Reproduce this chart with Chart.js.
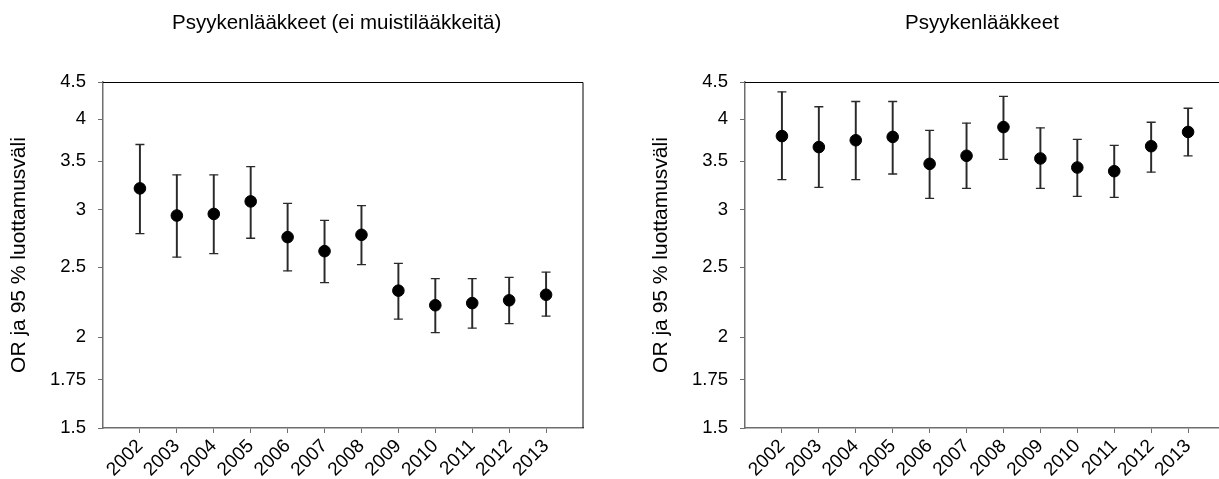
<!doctype html>
<html lang="fi">
<head>
<meta charset="UTF-8" />
<title>Psyykenlääkkeet OR 2002–2013</title>
<script src="https://cdn.jsdelivr.net/npm/chart.js@4/dist/chart.umd.min.js"></script>
<style>
    html, body { margin: 0; padding: 0; background: #fff; overflow: hidden; }
    #wrap { position: relative; width: 1219px; height: 479px; overflow: hidden; }
    .panel { position: absolute; top: 0; }
</style>
</head>
<body>
<div id="wrap">
    <div class="panel" style="left:0px"><canvas id="left" width="620" height="479"></canvas></div>
    <div class="panel" style="left:642px"><canvas id="right" width="620" height="479"></canvas></div>
</div>

<script>
    const years = ["2002", "2003", "2004", "2005", "2006", "2007",
                   "2008", "2009", "2010", "2011", "2012", "2013"];
    const yTicks = [1.5, 1.75, 2, 2.5, 3, 3.5, 4, 4.5];
    const yTitle = "OR ja 95 % luottamusväli";

    // psyykenlääkkeet ilman muistilääkkeitä
    const leftTitle = "Psyykenlääkkeet (ei muistilääkkeitä)";
    const leftOR    = [3.21, 2.945, 2.96, 3.08, 2.75, 2.63, 2.77, 2.32, 2.215, 2.23, 2.25, 2.29];
    const leftLow   = [2.78, 2.58, 2.61, 2.74, 2.47, 2.38, 2.52, 2.12, 2.03, 2.06, 2.09, 2.14];
    const leftHigh  = [3.69, 3.35, 3.35, 3.44, 3.06, 2.90, 3.04, 2.53, 2.41, 2.41, 2.42, 2.46];

    // kaikki psyykenlääkkeet
    const rightTitle = "Psyykenlääkkeet";
    const rightOR    = [3.79, 3.66, 3.74, 3.78, 3.47, 3.56, 3.90, 3.53, 3.43, 3.39, 3.67, 3.84];
    const rightLow   = [3.30, 3.22, 3.30, 3.36, 3.11, 3.21, 3.52, 3.21, 3.13, 3.12, 3.38, 3.56];
    const rightHigh  = [4.36, 4.16, 4.23, 4.23, 3.86, 3.95, 4.30, 3.89, 3.75, 3.68, 3.96, 4.14];

    const FONT = "'Liberation Sans', Arial, sans-serif";
    const AXIS_GRAY = "#6e6e6e";
    const BAR_COLOR = "#2a2a2a";

    // empty slot on both ends so the years sit one step inside the frame
    const labels = ["", ...years, ""];
    const pad = (arr) => [null, ...arr, null];

    // top/right frame lines plus the panel heading
    const framePlugin = {
        id: "frame",
        afterDraw(chart, args, opts) {
            const { ctx, chartArea: a } = chart;
            ctx.save();
            ctx.strokeStyle = "#000";
            ctx.lineWidth = 1;
            ctx.beginPath();
            ctx.moveTo(a.left, a.top + 0.5);
            ctx.lineTo(a.right, a.top + 0.5);
            ctx.lineTo(a.right, a.bottom);
            ctx.stroke();

            ctx.fillStyle = "#000";
            ctx.font = "20.5px " + FONT;
            ctx.textAlign = "left";
            ctx.textBaseline = "alphabetic";
            ctx.fillText(opts.text, opts.x, 29);
            ctx.restore();
        },
    };

    function makeChart(id, title, titleX, or, low, high) {
        const ctx = document.getElementById(id).getContext("2d");
        return new Chart(ctx, {
            type: "bar",
            data: {
                labels: labels,
                datasets: [
                    {
                        type: "line",
                        data: pad(or),
                        showLine: false,
                        pointStyle: "circle",
                        pointRadius: 5.8,
                        pointBorderWidth: 1,
                        pointBackgroundColor: "#000",
                        pointBorderColor: "#000",
                        order: 0,
                    },
                    {
                        type: "line",
                        data: pad(high),
                        showLine: false,
                        pointStyle: "line",
                        pointRadius: 4.5,
                        pointBorderWidth: 1.3,
                        pointBorderColor: BAR_COLOR,
                        order: 1,
                    },
                    {
                        type: "line",
                        data: pad(low),
                        showLine: false,
                        pointStyle: "line",
                        pointRadius: 4.5,
                        pointBorderWidth: 1.3,
                        pointBorderColor: BAR_COLOR,
                        order: 1,
                    },
                    {
                        type: "bar",
                        data: pad(low.map((v, i) => [v, high[i]])),
                        backgroundColor: BAR_COLOR,
                        borderWidth: 0,
                        barThickness: 1.3,
                        order: 2,
                    },
                ],
            },
            options: {
                responsive: false,
                animation: false,
                events: [],
                layout: { padding: { top: 82, right: 37, left: 0, bottom: 0 } },
                plugins: {
                    legend: { display: false },
                    tooltip: { enabled: false },
                    frame: { text: title, x: titleX },
                },
                scales: {
                    x: {
                        type: "category",
                        offset: false,
                        grid: {
                            offset: false,
                            drawOnChartArea: false,
                            tickLength: 5,
                            color: (c) =>
                                c.index === 0 || c.index === labels.length - 1
                                    ? "rgba(0,0,0,0)"
                                    : AXIS_GRAY,
                        },
                        border: { color: AXIS_GRAY, width: 1.5 },
                        ticks: {
                            autoSkip: false,
                            minRotation: 45,
                            maxRotation: 45,
                            padding: 2,
                            color: "#000",
                            font: { family: FONT, size: 19 },
                        },
                        afterFit: (s) => { s.height = 51; },
                    },
                    y: {
                        type: "logarithmic",
                        min: 1.5,
                        max: 4.5,
                        afterBuildTicks: (s) => {
                            s.ticks = yTicks.map((v) => ({ value: v }));
                        },
                        grid: {
                            drawOnChartArea: false,
                            tickLength: 5,
                            color: AXIS_GRAY,
                        },
                        border: { color: AXIS_GRAY, width: 1.5 },
                        ticks: {
                            padding: 12,
                            color: "#000",
                            font: { family: FONT, size: 18.5 },
                            callback: (v) => String(v),
                        },
                        title: {
                            display: true,
                            text: yTitle,
                            color: "#000",
                            font: { family: FONT, size: 21 },
                            padding: { top: 7, bottom: 0 },
                        },
                        afterFit: (s) => { s.width = 103; },
                    },
                },
            },
            plugins: [framePlugin],
        });
    }

    makeChart("left", leftTitle, 172, leftOR, leftLow, leftHigh);
    makeChart("right", rightTitle, 263, rightOR, rightLow, rightHigh);
</script>
</body>
</html>
